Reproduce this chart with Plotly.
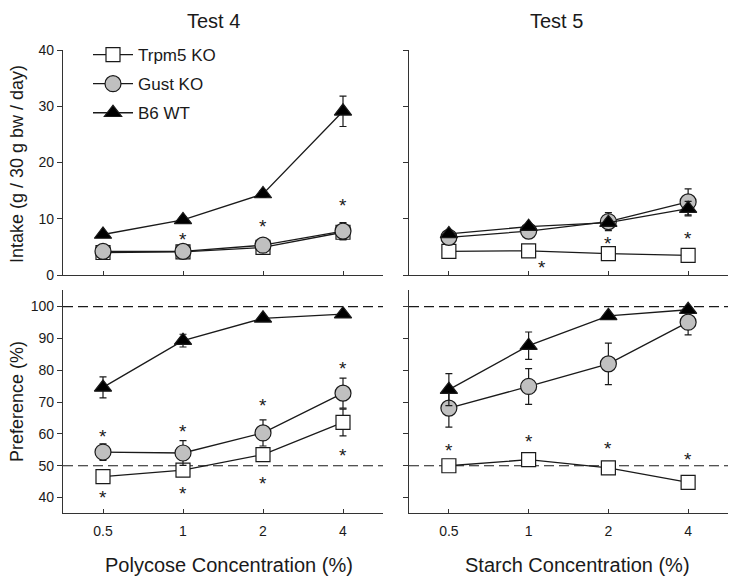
import plotly.graph_objects as go
import math

# ---------------- data ----------------
CONC = [0.5, 1, 2, 4]
TICK_TEXT = ["0.5", "1", "2", "4"]
SERIES = ["Trpm5 KO", "Gust KO", "B6 WT"]

# Intake (g / 30 g bw / day)
intake_t4_trpm5 = [4.0, 4.1, 4.9, 7.6]
intake_t4_trpm5_err = [0.4, 0.4, 0.5, 1.3]
intake_t4_gust = [4.2, 4.2, 5.3, 7.8]
intake_t4_gust_err = [0.4, 0.4, 0.6, 1.5]
intake_t4_b6 = [7.2, 9.8, 14.4, 29.1]
intake_t4_b6_err = [0.4, 0.5, 0.6, 2.7]

intake_t5_trpm5 = [4.2, 4.3, 3.8, 3.5]
intake_t5_trpm5_err = [0.3, 0.4, 0.4, 0.4]
intake_t5_gust = [6.7, 7.8, 9.5, 13.0]
intake_t5_gust_err = [0.6, 0.6, 1.6, 2.3]
intake_t5_b6 = [7.3, 8.6, 9.3, 11.8]
intake_t5_b6_err = [0.4, 0.4, 0.6, 1.3]

# Preference (%)
pref_t4_trpm5 = [46.6, 48.6, 53.5, 63.6]
pref_t4_trpm5_err = [1.5, 1.5, 2.0, 4.2]
pref_t4_gust = [54.3, 54.0, 60.3, 72.8]
pref_t4_gust_err = [2.6, 3.9, 4.1, 4.7]
pref_t4_b6 = [74.6, 89.3, 96.3, 97.6]
pref_t4_b6_err = [3.3, 2.0, 0.8, 0.6]

pref_t5_trpm5 = [50.0, 51.9, 49.3, 44.8]
pref_t5_trpm5_err = [1.0, 1.0, 1.0, 1.0]
pref_t5_gust = [68.1, 74.9, 82.0, 95.1]
pref_t5_gust_err = [6.0, 5.6, 6.5, 4.0]
pref_t5_b6 = [73.9, 87.7, 97.1, 99.0]
pref_t5_b6_err = [5.0, 4.3, 0.6, 0.5]

# significance asterisks (x = concentration, y = value)
star_intake_t4_x = [1, 2, 4]
star_intake_t4_y = [6.8, 9.1, 12.9]
star_intake_t5_x = [1.12, 2, 4]
star_intake_t5_y = [1.8, 6.1, 7.0]
star_pref_t4_x = [0.5, 1, 2, 4, 4, 0.5, 1, 2]
star_pref_t4_y = [60.0, 61.8, 69.9, 81.4, 54.3, 40.9, 42.3, 45.4]
star_pref_t5_x = [0.5, 1, 2, 4]
star_pref_t5_y = [55.8, 58.5, 56.4, 52.9]

REF_LINES = [50, 100]
INTAKE_TICKS = [0, 10, 20, 30, 40]
PREF_TICKS = [40, 50, 60, 70, 80, 90, 100]

# ---------------- styling ----------------
VIEW_W, VIEW_H = 736, 584
OFF = 8  # page body margin
W, H = VIEW_W - 2 * OFF, VIEW_H - 2 * OFF
FONT = "Liberation Sans, Arial, sans-serif"
INK = "#1a1a1a"
AX = "#333333"
GREY = "#c0c0c0"

def px_x(p):
    return min(1.0, max(0.0, (p - OFF) / W))

def px_y(p):
    return min(1.0, max(0.0, 1 - (p - OFF) / H))

STYLE = {
    "Trpm5 KO": dict(symbol="square", size=14, color="white"),
    "Gust KO": dict(symbol="circle", size=16, color=GREY),
    "B6 WT": dict(symbol="triangle-up", size=15, color="black"),
}

fig = go.Figure()

panels = [
    ("x", "y", [intake_t4_trpm5, intake_t4_gust, intake_t4_b6],
     [intake_t4_trpm5_err, intake_t4_gust_err, intake_t4_b6_err], True),
    ("x2", "y2", [intake_t5_trpm5, intake_t5_gust, intake_t5_b6],
     [intake_t5_trpm5_err, intake_t5_gust_err, intake_t5_b6_err], False),
    ("x3", "y3", [pref_t4_trpm5, pref_t4_gust, pref_t4_b6],
     [pref_t4_trpm5_err, pref_t4_gust_err, pref_t4_b6_err], False),
    ("x4", "y4", [pref_t5_trpm5, pref_t5_gust, pref_t5_b6],
     [pref_t5_trpm5_err, pref_t5_gust_err, pref_t5_b6_err], False),
]

for xa, ya, vals, errs, show in panels:
    for name, v, e in zip(SERIES, vals, errs):
        st = STYLE[name]
        fig.add_trace(go.Scatter(
            x=CONC, y=v, xaxis=xa, yaxis=ya, name=name,
            legendgroup=name, showlegend=show,
            mode="lines+markers",
            line=dict(color=INK, width=1.3),
            marker=dict(symbol=st["symbol"], size=st["size"], color=st["color"],
                        line=dict(color=INK, width=1.2)),
            error_y=dict(type="data", array=e, visible=True, color=INK,
                         thickness=1.2, width=3.5),
            hoverinfo="x+y+name",
        ))

# asterisks (annotation x on a log axis is given in log10 units)
for xa, ya, sx, sy in [("x", "y", star_intake_t4_x, star_intake_t4_y),
                       ("x2", "y2", star_intake_t5_x, star_intake_t5_y),
                       ("x3", "y3", star_pref_t4_x, star_pref_t4_y),
                       ("x4", "y4", star_pref_t5_x, star_pref_t5_y)]:
    for xx, yy in zip(sx, sy):
        fig.add_annotation(x=math.log10(xx), y=yy, xref=xa, yref=ya, text="*",
                           showarrow=False, yshift=-3,
                           font=dict(family=FONT, size=19, color=INK))

# dashed reference lines
for xa, ya in [("x3", "y3"), ("x4", "y4")]:
    for v in REF_LINES:
        fig.add_shape(type="line", xref=xa + " domain", yref=ya,
                      x0=0, x1=1, y0=v, y1=v, layer="below",
                      line=dict(color=INK, width=1.2, dash="10px,5px"))

XR = [math.log10(0.5) - 0.5 * math.log10(2), math.log10(4) + 0.5 * math.log10(2)]

LEFT = [px_x(63), px_x(383)]
RIGHT = [px_x(409), px_x(728)]
TOP = [px_y(275), px_y(50)]
BOT = [px_y(513), px_y(290)]

def xaxis(domain, anchor, labels):
    return dict(domain=domain, anchor=anchor, type="log", range=XR,
                tickvals=CONC, ticktext=TICK_TEXT, showticklabels=labels,
                ticks="inside", ticklen=4, tickwidth=1.2, tickcolor=AX,
                ticklabelstandoff=5,
                showline=True, linecolor=AX, linewidth=1.4,
                showgrid=False, zeroline=False, automargin=False,
                tickfont=dict(family=FONT, size=14, color=INK))

def yaxis(domain, anchor, rng, tv, labels):
    return dict(domain=domain, anchor=anchor, range=rng, tickvals=tv,
                showticklabels=labels,
                ticks="outside", ticklen=5, tickwidth=1.2, tickcolor=AX,
                showline=True, linecolor=AX, linewidth=1.4,
                showgrid=False, zeroline=False, automargin=False,
                tickfont=dict(family=FONT, size=14, color=INK))

fig.update_layout(
    width=W, height=H,
    margin=dict(l=0, r=0, t=0, b=0, pad=0, autoexpand=False),
    paper_bgcolor="white", plot_bgcolor="white",
    font=dict(family=FONT, color=INK),
    xaxis=xaxis(LEFT, "y", False),
    xaxis2=xaxis(RIGHT, "y2", False),
    xaxis3=xaxis(LEFT, "y3", True),
    xaxis4=xaxis(RIGHT, "y4", True),
    yaxis=yaxis(TOP, "x", [0, 40], INTAKE_TICKS, True),
    yaxis2=yaxis(TOP, "x2", [0, 40], INTAKE_TICKS, False),
    yaxis3=yaxis(BOT, "x3", [35.15, 105.2], PREF_TICKS, True),
    yaxis4=yaxis(BOT, "x4", [35.15, 105.2], PREF_TICKS, False),
    legend=dict(x=px_x(88), y=px_y(37), xanchor="left", yanchor="top",
                bgcolor="rgba(0,0,0,0)", borderwidth=0,
                tracegroupgap=4, itemwidth=40,
                font=dict(family=FONT, size=17, color=INK)),
    showlegend=True,
)

titles = [
    ("Test 4", px_x(213), 1.0, "top", 0, 20),
    ("Test 5", px_x(556), 1.0, "top", 0, 20),
    ("Polycose Concentration (%)", px_x(229), px_y(565), "middle", 0, 20),
    ("Starch Concentration (%)", px_x(577), px_y(565), "middle", 0, 20),
    ("Intake (g / 30 g bw / day)", px_x(17), px_y(164), "middle", -90, 18),
    ("Preference (%)", px_x(17), px_y(402), "middle", -90, 18),
]
for txt, x, y, ya, ang, sz in titles:
    fig.add_annotation(x=x, y=y, xref="paper", yref="paper", text=txt,
                       showarrow=False, textangle=ang,
                       xanchor="center", yanchor=ya,
                       font=dict(family=FONT, size=sz, color=INK))

fig.write_html("out.html")
